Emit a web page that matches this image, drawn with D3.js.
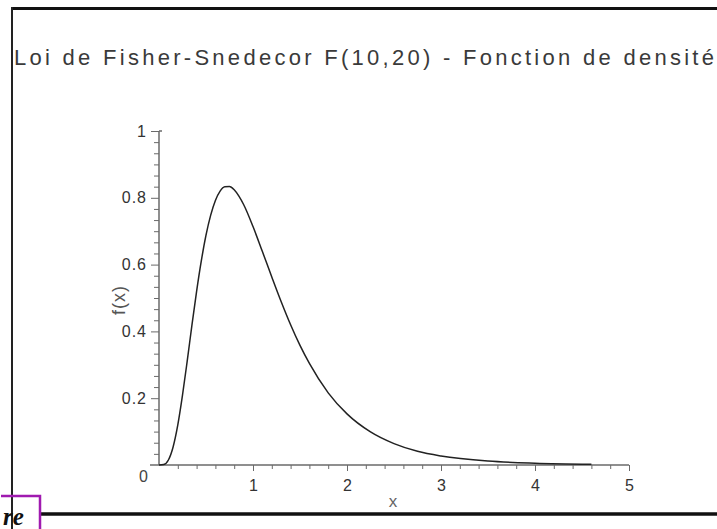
<!DOCTYPE html>
<html>
<head>
<meta charset="utf-8">
<script src="https://cdn.jsdelivr.net/npm/d3@7"></script>
<style>
  html, body { margin: 0; padding: 0; background: #fff; }
  svg { display: block; }
  .axis path, .axis line { stroke: #6a6a6a; }
  .axis text { fill: #333; font-family: "Liberation Sans", Arial, sans-serif; }
</style>
</head>
<body>
<div id="chart"></div>
<script>
// valeurs (densité F(10,20))
const xValues = [0, 0.05, 0.1, 0.15, 0.2, 0.25, 0.3, 0.35, 0.4, 0.45, 0.5, 0.55, 0.6, 0.65, 0.7, 0.75, 0.8, 0.85, 0.9,
  1.0, 1.1, 1.2, 1.3, 1.4, 1.5, 1.6, 1.8, 2.0, 2.25, 2.5, 2.75, 3.0, 3.5, 4.0, 4.6];
const fValues = [0, 0.0014, 0.015, 0.054, 0.120, 0.209, 0.311, 0.418, 0.520, 0.611, 0.688, 0.748, 0.792, 0.820, 0.833, 0.834, 0.824, 0.805, 0.780,
  0.714, 0.639, 0.563, 0.489, 0.420, 0.358, 0.304, 0.216, 0.153, 0.099, 0.064, 0.041, 0.027, 0.012, 0.0056, 0.0023];

const xTicks = [1, 2, 3, 4, 5];
const yTicks = [0.2, 0.4, 0.6, 0.8, 1];
const titleText = 'Loi de Fisher-Snedecor F(10,20) - Fonction de densité';

const width = 717;
const height = 529;

const svg = d3.select('#chart').append('svg')
  .attr('width', width)
  .attr('height', height);

// cadre
svg.append('line').attr('x1', 11).attr('x2', width).attr('y1', 8.5).attr('y2', 8.5)
  .attr('stroke', '#111').attr('stroke-width', 3);
svg.append('line').attr('x1', 12).attr('x2', 12).attr('y1', 7).attr('y2', height)
  .attr('stroke', '#222').attr('stroke-width', 2);
svg.append('line').attr('x1', 40).attr('x2', width).attr('y1', 514).attr('y2', 514)
  .attr('stroke', '#111').attr('stroke-width', 3.5);

// titre
svg.append('text')
  .attr('x', 14)
  .attr('y', 65)
  .attr('font-family', '"Liberation Sans", Arial, sans-serif')
  .attr('font-size', 22)
  .attr('fill', '#3a3a3a')
  .attr('textLength', 700)
  .attr('lengthAdjust', 'spacing')
  .text(titleText);

// echelles
const x = d3.scaleLinear().domain([0, 5]).range([159, 629]);
const y = d3.scaleLinear().domain([0, 1]).range([465, 131]);

// axe x
const xMinor = d3.range(0.2, 5.01, 0.2).filter((d) => Math.abs(d - Math.round(d)) > 0.01);
svg.append('g').attr('class', 'axis')
  .attr('transform', `translate(0,${y(0)})`)
  .call(d3.axisBottom(x).tickValues(xMinor).tickSize(4).tickFormat(''))
  .call((g) => g.select('.domain').remove());
const gx = svg.append('g').attr('class', 'axis')
  .attr('transform', `translate(0,${y(0)})`)
  .call(d3.axisBottom(x).tickValues(xTicks).tickSize(6).tickPadding(9).tickFormat(d3.format('d')));
gx.select('.domain').remove();
gx.selectAll('text').attr('font-size', 16);
svg.append('line')
  .attr('x1', x(0) - 9).attr('x2', x(5))
  .attr('y1', y(0)).attr('y2', y(0))
  .attr('stroke', '#6a6a6a').attr('stroke-width', 1.5);

// axe y
const yMinor = d3.range(1, 30).map((i) => i / 30)
  .filter((d) => Math.abs(d * 5 - Math.round(d * 5)) > 0.01);
svg.append('g').attr('class', 'axis')
  .attr('transform', `translate(${x(0)},0)`)
  .call(d3.axisLeft(y).tickValues(yMinor).tickSize(5).tickFormat(''))
  .call((g) => g.select('.domain').remove());
const gy = svg.append('g').attr('class', 'axis')
  .attr('transform', `translate(${x(0)},0)`)
  .call(d3.axisLeft(y).tickValues(yTicks).tickSize(8).tickPadding(4).tickFormat((d) => (d === 1 ? '1' : d3.format('.1f')(d))));
gy.select('.domain').remove();
gy.selectAll('text').attr('font-size', 16).attr('letter-spacing', 1);
svg.append('line')
  .attr('x1', x(0)).attr('x2', x(0))
  .attr('y1', y(0)).attr('y2', y(1))
  .attr('stroke', '#6a6a6a').attr('stroke-width', 1.5);
svg.append('line')
  .attr('x1', x(0)).attr('x2', x(0) + 3)
  .attr('y1', y(1)).attr('y2', y(1))
  .attr('stroke', '#6a6a6a').attr('stroke-width', 1.5);

// origine
svg.append('text')
  .attr('x', x(0) - 20)
  .attr('y', y(0) + 17)
  .attr('font-family', '"Liberation Sans", Arial, sans-serif')
  .attr('font-size', 16)
  .attr('fill', '#444')
  .text('0');

// titres des axes
svg.append('text')
  .attr('x', 393)
  .attr('y', 507)
  .attr('text-anchor', 'middle')
  .attr('font-family', '"Liberation Sans", Arial, sans-serif')
  .attr('font-size', 17)
  .attr('fill', '#666')
  .text('x');
svg.append('text')
  .attr('transform', 'translate(125,300) rotate(-90)')
  .attr('text-anchor', 'middle')
  .attr('font-family', '"Liberation Sans", Arial, sans-serif')
  .attr('font-size', 18)
  .attr('fill', '#555')
  .attr('letter-spacing', 1)
  .text('f(x)');

// courbe
const line = d3.line()
  .x((d, i) => x(xValues[i]))
  .y((d) => y(d))
  .curve(d3.curveMonotoneX);
svg.append('path')
  .datum(fValues)
  .attr('fill', 'none')
  .attr('stroke', '#222')
  .attr('stroke-width', 1.5)
  .attr('d', line);

// marque en bas a gauche
svg.append('path')
  .attr('d', `M1,496 H40 V${height}`)
  .attr('fill', 'none')
  .attr('stroke', '#a01ab0')
  .attr('stroke-width', 2.5);
svg.append('text')
  .attr('x', 3)
  .attr('y', 525)
  .attr('font-family', '"Liberation Serif", "DejaVu Serif", serif')
  .attr('font-style', 'italic')
  .attr('font-weight', 'bold')
  .attr('font-size', 25)
  .attr('fill', '#111')
  .text('re');
</script>
</body>
</html>
